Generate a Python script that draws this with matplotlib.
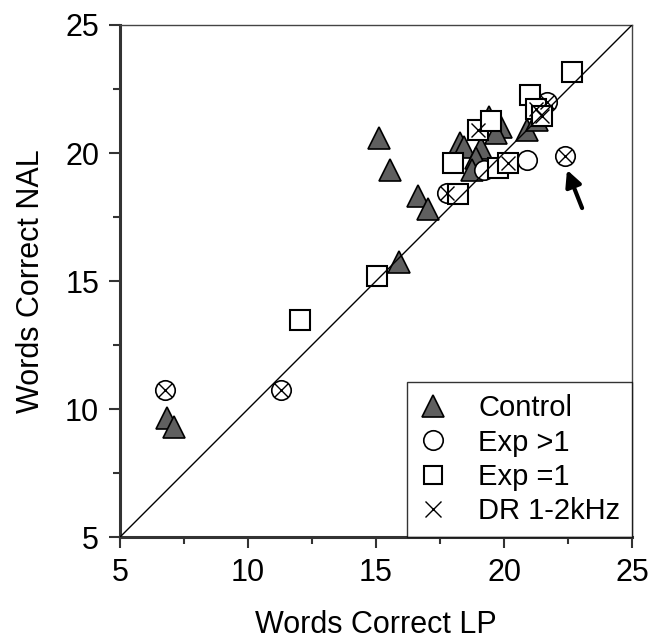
import numpy as np
import matplotlib
matplotlib.use("Agg")
from matplotlib import pyplot as plt
from matplotlib.lines import Line2D
from matplotlib.ticker import MultipleLocator

plt.rcParams['font.family'] = ['Liberation Sans', 'DejaVu Sans']

# Control group (filled triangles)
control_x = [6.84, 7.10, 15.12, 15.55, 16.64, 17.03, 15.90, 18.28, 18.45, 19.10,
             18.90, 18.75, 19.40, 19.90, 19.70, 20.90, 21.30]
control_y = [9.65, 9.30, 20.60, 19.34, 18.32, 17.80, 15.74, 20.40, 20.25, 20.20,
             19.80, 19.33, 21.40, 21.00, 20.80, 20.90, 21.30]

# Exp >1 (circles), with DR 1-2kHz flag
expgt1_x = [6.76, 11.29, 17.77, 19.20, 20.90, 22.38, 21.68]
expgt1_y = [10.74, 10.74, 18.44, 19.33, 19.73, 19.88, 22.00]
expgt1_dr = [1, 1, 1, 0, 0, 1, 1]

# Exp =1 (squares), with DR 1-2kHz flag
expeq1_x = [12.03, 15.04, 18.20, 18.00, 19.77, 20.15, 19.00, 19.50, 21.00, 21.25, 21.50, 22.66]
expeq1_y = [13.48, 15.20, 18.40, 19.60, 19.40, 19.60, 20.90, 21.25, 22.27, 21.70, 21.45, 23.16]
expeq1_dr = [0, 0, 0, 0, 0, 1, 1, 0, 0, 1, 1, 0]

legend_labels = ['Control', 'Exp >1', 'Exp =1', 'DR 1-2kHz']

fig = plt.figure(figsize=(6.65, 6.41), dpi=100)
ax = fig.add_axes([0.1805, 0.1622, 0.7699, 0.7988])

# identity line
ax.plot([5, 25], [5, 25], color='black', lw=1.0, zorder=4)

ax.plot(control_x, control_y, ls='none', marker='^', ms=16.5, mfc='#5f5f5f',
        mec='black', mew=1.2, zorder=3)
ax.plot(expgt1_x, expgt1_y, ls='none', marker='o', ms=14, mfc='white',
        mec='black', mew=1.2, zorder=3)
ax.plot(expeq1_x, expeq1_y, ls='none', marker='s', ms=14, mfc='white',
        mec='black', mew=1.5, zorder=3)

dr_x = [x for x, f in zip(expgt1_x, expgt1_dr) if f] + [x for x, f in zip(expeq1_x, expeq1_dr) if f]
dr_y = [y for y, f in zip(expgt1_y, expgt1_dr) if f] + [y for y, f in zip(expeq1_y, expeq1_dr) if f]
ax.plot(dr_x, dr_y, ls='none', marker='x', ms=10, mec='black', mew=1.0, zorder=3.5)

ax.annotate('', xy=(22.46, 19.34), xytext=(23.05, 17.85),
            arrowprops=dict(arrowstyle='-|>', color='black', lw=3,
                            mutation_scale=24, shrinkA=0, shrinkB=0))

ax.set_xlim(5, 25)
ax.set_ylim(5, 25)
ax.xaxis.set_major_locator(MultipleLocator(5))
ax.yaxis.set_major_locator(MultipleLocator(5))
ax.xaxis.set_minor_locator(MultipleLocator(2.5))
ax.yaxis.set_minor_locator(MultipleLocator(2.5))
ax.tick_params(which='major', direction='out', length=8, width=1.5, labelsize=22,
               color='#333333', pad=7)
ax.tick_params(which='minor', direction='out', length=5, width=1.5, color='#333333')

for s in ['left', 'bottom']:
    ax.spines[s].set_linewidth(2.2)
    ax.spines[s].set_color('#333333')
for s in ['top', 'right']:
    ax.spines[s].set_linewidth(1.0)
    ax.spines[s].set_color('#444444')

ax.set_xlabel('Words Correct LP', fontsize=22, labelpad=16)
ax.set_ylabel('Words Correct NAL', fontsize=22, labelpad=14)

handles = [
    Line2D([], [], ls='none', marker='^', ms=16, mfc='#5f5f5f', mec='black', mew=1.2),
    Line2D([], [], ls='none', marker='o', ms=14, mfc='white', mec='black', mew=1.2),
    Line2D([], [], ls='none', marker='s', ms=13, mfc='white', mec='black', mew=1.5),
    Line2D([], [], ls='none', marker='x', ms=12, mec='black', mew=1.0),
]
leg = ax.legend(handles, legend_labels, loc='lower right', bbox_to_anchor=(1, 0),
                borderaxespad=0, fontsize=21, frameon=True, fancybox=False,
                handlelength=1.0, handletextpad=1.05, labelspacing=0.22,
                borderpad=0.4)
leg.get_frame().set_edgecolor('black')
leg.get_frame().set_linewidth(1.0)

fig.savefig('out.png', dpi=100)
